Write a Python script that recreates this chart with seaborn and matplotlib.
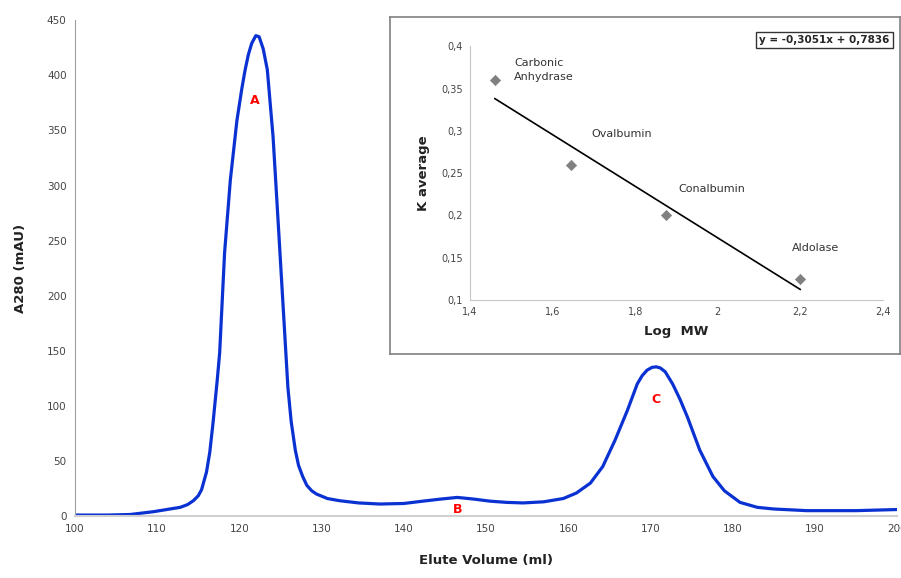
import matplotlib
matplotlib.use("Agg")
import matplotlib.pyplot as plt
import seaborn as sns
import pandas as pd

# chromatogram
elute_ml = [100, 104, 106.7, 109.5, 112.8, 113.7, 114.4, 115.0, 115.4, 116.0, 116.4,
            116.8, 117.3, 117.6, 118.2, 118.9, 119.7, 120.3, 120.7, 121.1, 121.5,
            122.0, 122.4, 122.9, 123.4, 124.1, 124.7, 125.3, 125.9, 126.3, 126.8,
            127.2, 127.7, 128.2, 128.8, 129.4, 130.7, 132.2, 134.5, 137.1,
            140, 142.3, 144.5, 146.5, 148.5, 150.5, 152.5, 154.5, 157, 159.4, 161,
            162.7, 164.2, 165.7, 167.2, 168.4, 169.0, 169.6, 170.2, 170.7, 171.2,
            171.8, 172.7, 173.6, 174.5, 176.0, 177.6, 179, 180.9, 183, 185, 189,
            195, 200]
a280 = [1, 1, 1.5, 4, 8, 10.5, 14, 18.5, 24, 40, 58,
        85, 123, 148, 239, 305, 359, 388, 405, 419, 429,
        436, 435, 424, 405, 344, 269, 193, 117, 86, 60,
        46, 36, 28, 23, 20, 16, 14, 12, 11,
        11.5, 13.6, 15.5, 17, 15.5, 13.6, 12.5, 12, 13, 16, 21,
        30, 45, 69, 96, 120, 127.5, 132.5, 135, 135.5, 134.5,
        131, 120, 106, 90, 60, 36, 23, 12.5, 8, 6.5, 5,
        5, 6]

peak_names = ['A', 'B', 'C']
peak_x = [121.9, 146.5, 170.7]
peak_y = [377, 6, 106]

# calibration standards
proteins = ['Carbonic\nAnhydrase', 'Ovalbumin', 'Conalbumin', 'Aldolase']
log_mw = [1.46, 1.645, 1.875, 2.2]
k_avg = [0.36, 0.26, 0.20, 0.125]
label_x = [1.507, 1.695, 1.904, 2.18]
label_y = [0.372, 0.296, 0.231, 0.161]
slope, intercept = -0.3051, 0.7836

sns.set_style("white")
plt.rcParams['font.family'] = ['DejaVu Sans']

fig = plt.figure(figsize=(9.01, 5.78), dpi=100)
ax = fig.add_axes([0.0832, 0.107, 0.9124, 0.858])

df = pd.DataFrame({'x': elute_ml, 'y': a280})
sns.lineplot(data=df, x='x', y='y', ax=ax, color='#0a32d2', linewidth=2.3)

for n, px, py in zip(peak_names, peak_x, peak_y):
    ax.text(px, py, n, color='red', fontsize=9, fontweight='bold', ha='center', va='center')

ax.set_xlim(100, 200)
ax.set_ylim(0, 450)
ax.set_xticks(range(100, 201, 10))
ax.set_yticks(range(0, 451, 50))
ax.tick_params(labelsize=7.5, colors='#444444', length=0, pad=6)
for s in ['top', 'right']:
    ax.spines[s].set_visible(False)
ax.spines['left'].set_color('#a0a0a0')
ax.spines['bottom'].set_color('#d0d0d0')
ax.spines['bottom'].set_linewidth(1.5)
ax.set_xlabel('Elute Volume (ml)', fontsize=9.5, fontweight='bold', color='#222222', labelpad=14)
ax.set_ylabel('A280 (mAU)', fontsize=9.5, fontweight='bold', color='#222222', labelpad=14)

# inset frame
frame = fig.add_axes([0.433, 0.3875, 0.566, 0.583])
frame.set_xticks([])
frame.set_yticks([])
for s in frame.spines.values():
    s.set_color('#808080')
    s.set_linewidth(1.2)
frame.set_zorder(2)

ins = fig.add_axes([0.5216, 0.481, 0.4584, 0.439])
ins.set_zorder(3)
ins.patch.set_alpha(0)
std = pd.DataFrame({'logmw': log_mw, 'k': k_avg})
sns.scatterplot(data=std, x='logmw', y='k', ax=ins, marker='D', s=28,
                color='#808080', edgecolor='#808080', zorder=3)
fit_x = [log_mw[0], log_mw[-1]]
fit_y = [slope * v + intercept for v in fit_x]
ins.plot(fit_x, fit_y, color='black', linewidth=1.2)
for name, tx, ty in zip(proteins, label_x, label_y):
    ins.text(tx, ty, name, fontsize=8, color='#333333', ha='left', va='center',
             linespacing=1.5)

ins.set_xlim(1.4, 2.4)
ins.set_ylim(0.1, 0.4)
xt = [1.4, 1.6, 1.8, 2.0, 2.2, 2.4]
yt = [0.1, 0.15, 0.2, 0.25, 0.3, 0.35, 0.4]
ins.set_xticks(xt)
ins.set_xticklabels(['1,4', '1,6', '1,8', '2', '2,2', '2,4'])
ins.set_yticks(yt)
ins.set_yticklabels(['0,1', '0,15', '0,2', '0,25', '0,3', '0,35', '0,4'])
ins.tick_params(labelsize=7, colors='#444444', length=0, pad=5)
for s in ['top', 'right']:
    ins.spines[s].set_visible(False)
ins.spines['left'].set_color('#c8c8c8')
ins.spines['bottom'].set_color('#c8c8c8')
ins.set_xlabel('Log  MW', fontsize=9.5, fontweight='bold', color='#222222', labelpad=6)
ins.set_ylabel('K average', fontsize=9.5, fontweight='bold', color='#222222', labelpad=8)

fig.text(0.9875, 0.931, 'y = -0,3051x + 0,7836', fontsize=7.5, fontweight='bold',
         ha='right', va='center', zorder=5,
         bbox=dict(boxstyle='square,pad=0.3', facecolor='white', edgecolor='#333333', linewidth=1))

fig.savefig('out.png', dpi=100)
